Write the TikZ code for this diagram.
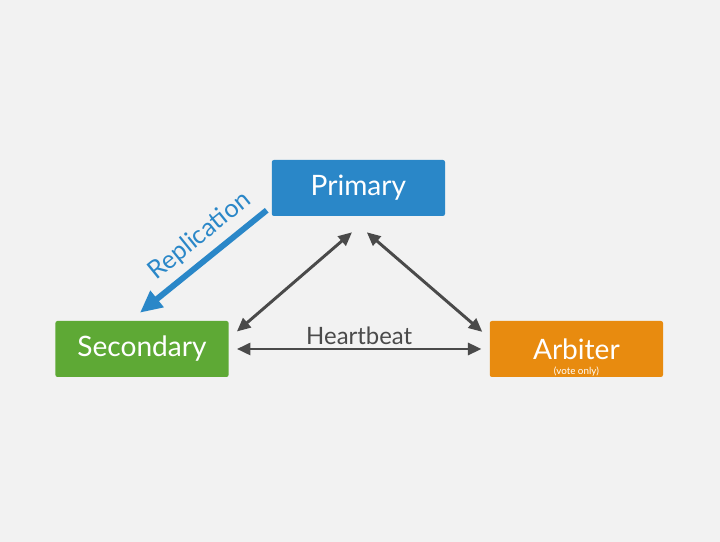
\documentclass[tikz,border=0pt]{standalone}
\usepackage{fontspec}
\setmainfont{Lato}
\usepackage{xcolor}
\usetikzlibrary{arrows.meta,positioning,calc}
\definecolor{bgcol}{HTML}{F2F2F2}
\definecolor{priblue}{HTML}{2A87C8}
\definecolor{secgreen}{HTML}{5EA935}
\definecolor{arborange}{HTML}{E88B0F}
\definecolor{linkgray}{HTML}{4A4A4A}

\begin{document}
\begin{tikzpicture}[
  every node/.style={font=\fontsize{20}{22}\selectfont},
  member/.style={text=white,rounded corners=1.5pt,minimum width=4.33cm,minimum height=1.4cm,inner sep=0pt},
  hb/.style={{Triangle[length=3.4mm,width=3mm]}-{Triangle[length=3.4mm,width=3mm]},line width=2.1pt,draw=linkgray,fill=linkgray},
  repl/.style={-{Triangle[length=5.5mm,width=5mm]},line width=4.2pt,draw=priblue,fill=priblue}]
\fill[bgcol] (0,0) rectangle (18,13.55);
\node[member,fill=priblue] (pri) at (8.96,8.85) {Primary};
\node[member,fill=secgreen] (sec) at (3.55,4.825) {Secondary};
\node[member,fill=arborange] (arb) at (14.41,4.825) {Arbiter};
\node[text=white,font=\fontsize{7}{8}\selectfont,inner sep=0pt] (vote) at ($(arb.south)+(0,0.15)$) {(vote only)};
% ends of the links
\coordinate (s1) at ($(sec.north east)+(0.2,-0.27)$);
\coordinate (p1) at ($(pri.south)+(-0.16,-0.4)$);
\coordinate (p2) at ($(pri.south)+(0.21,-0.4)$);
\coordinate (a1) at ($(arb.north west)+(-0.18,-0.28)$);
\coordinate (r1) at ($(pri.south west)+(-0.12,0.15)$);
\coordinate (r2) at ($(sec.north)+(-0.05,0.2)$);
% heartbeat links
\draw[hb] (s1) -- (p1);
\draw[hb] (p2) -- (a1);
\draw[hb,shorten <=2mm,shorten >=2mm] (sec.east) -- (arb.west)
  node[midway,above=-1.5pt,text=linkgray,font=\fontsize{17}{19}\selectfont]{Heartbeat};
% replication
\draw[repl] (r1) -- (r2)
  node[pos=0.42,sloped,above=2pt,text=priblue,font=\fontsize{18}{20}\selectfont]{Replication};
\end{tikzpicture}
\end{document}
